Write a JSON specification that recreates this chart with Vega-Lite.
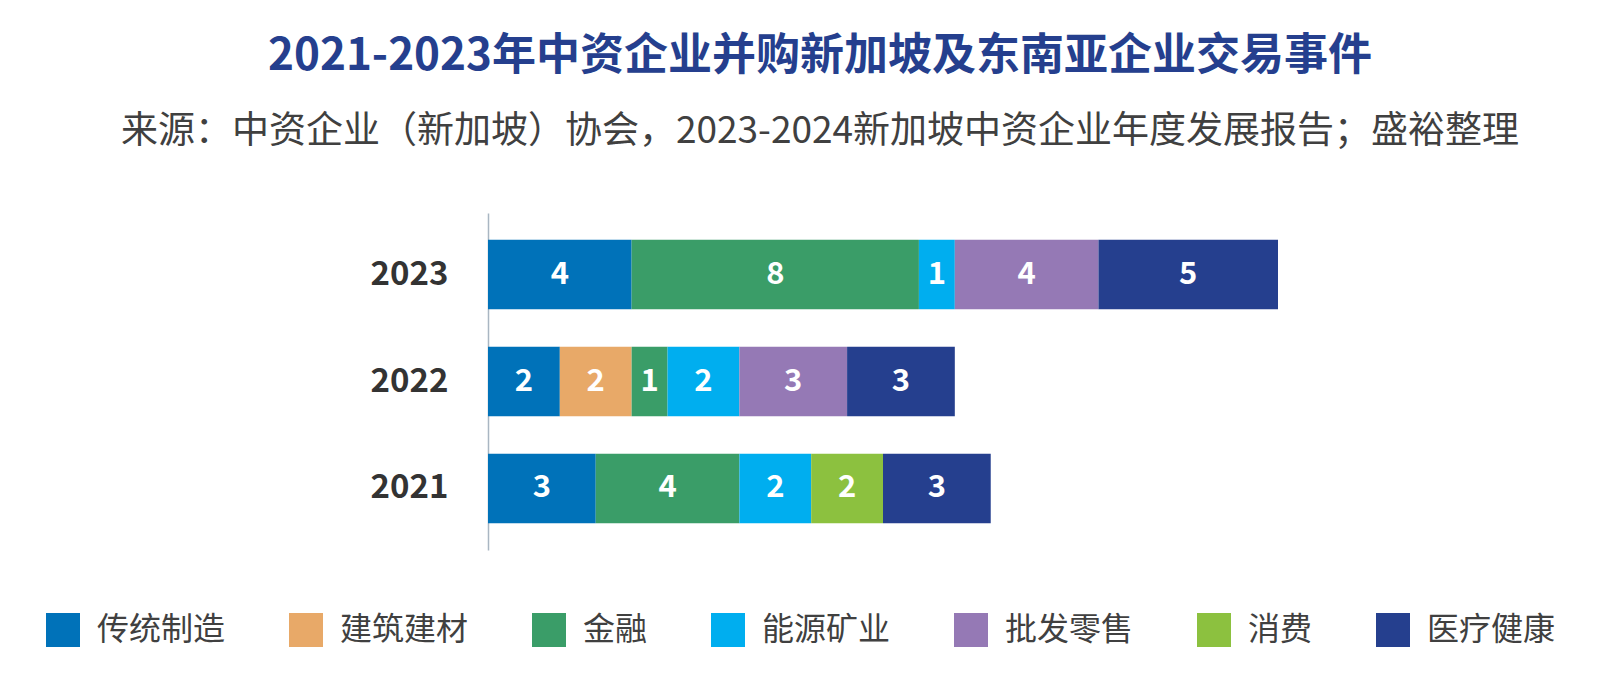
{
  "$schema": "https://vega.github.io/schema/vega-lite/v6.json",
  "autosize": {"type": "none"},
  "padding": {"left": 488, "top": 213, "right": 327, "bottom": 126},
  "width": 790,
  "height": 337,
  "background": "white",
  "config": {"view": {"stroke": null}, "font": "Noto Sans CJK SC"},
  "title": {
    "text": "2021-2023年中资企业并购新加坡及东南亚企业交易事件",
    "subtitle": "来源：中资企业（新加坡）协会，2023-2024新加坡中资企业年度发展报告；盛裕整理",
    "anchor": "middle",
    "frame": "group",
    "dx": -63,
    "offset": 63,
    "font": "Noto Sans CJK SC",
    "fontSize": 44,
    "fontWeight": "bold",
    "color": "#253F8E",
    "subtitleFont": "Noto Sans CJK SC",
    "subtitleFontSize": 37,
    "subtitleColor": "#404040",
    "subtitlePadding": 35
  },
  "data": {
    "values": [
      {"year": "2023", "sector": "传统制造", "k": 1, "n": 4},
      {"year": "2023", "sector": "金融", "k": 3, "n": 8},
      {"year": "2023", "sector": "能源矿业", "k": 4, "n": 1},
      {"year": "2023", "sector": "批发零售", "k": 5, "n": 4},
      {"year": "2023", "sector": "医疗健康", "k": 7, "n": 5},
      {"year": "2022", "sector": "传统制造", "k": 1, "n": 2},
      {"year": "2022", "sector": "建筑建材", "k": 2, "n": 2},
      {"year": "2022", "sector": "金融", "k": 3, "n": 1},
      {"year": "2022", "sector": "能源矿业", "k": 4, "n": 2},
      {"year": "2022", "sector": "批发零售", "k": 5, "n": 3},
      {"year": "2022", "sector": "医疗健康", "k": 7, "n": 3},
      {"year": "2021", "sector": "传统制造", "k": 1, "n": 3},
      {"year": "2021", "sector": "金融", "k": 3, "n": 4},
      {"year": "2021", "sector": "能源矿业", "k": 4, "n": 2},
      {"year": "2021", "sector": "消费", "k": 6, "n": 2},
      {"year": "2021", "sector": "医疗健康", "k": 7, "n": 3}
    ]
  },
  "encoding": {
    "y": {
      "field": "year",
      "type": "nominal",
      "sort": ["2023", "2022", "2021"],
      "scale": {"paddingInner": 0.35, "paddingOuter": 0.25},
      "axis": {
        "title": null,
        "ticks": false,
        "grid": false,
        "domain": true,
        "domainColor": "#a9b6c2",
        "domainWidth": 1.5,
        "labelFont": "Noto Sans CJK SC",
        "labelFontSize": 33,
        "labelFontWeight": "bold",
        "labelColor": "#333333",
        "labelPadding": 40
      }
    },
    "order": {"field": "k", "type": "quantitative", "sort": "ascending"}
  },
  "layer": [
    {
      "mark": {"type": "bar", "stroke": null},
      "encoding": {
        "x": {
          "field": "n",
          "type": "quantitative",
          "stack": "zero",
          "scale": {"domain": [0, 22], "nice": false, "zero": true},
          "axis": null
        },
        "color": {
          "field": "sector",
          "type": "nominal",
          "scale": {
            "domain": ["传统制造", "建筑建材", "金融", "能源矿业", "批发零售", "消费", "医疗健康"],
            "range": ["#0072B9", "#E8A968", "#3A9D68", "#00AEEF", "#9579B5", "#8CC13F", "#253F8E"]
          },
          "legend": {
            "title": null,
            "orient": "none",
            "direction": "horizontal",
            "columns": 7,
            "legendX": -442,
            "legendY": 400,
            "symbolType": "square",
            "symbolSize": 1156,
            "symbolStrokeWidth": 0,
            "symbolOpacity": 1,
            "labelFont": "Noto Sans CJK SC",
            "labelFontSize": 32,
            "labelColor": "#404040",
            "labelOffset": 17,
            "labelLimit": 300,
            "columnPadding": 63
          }
        }
      }
    },
    {
      "mark": {"type": "text", "color": "white", "fontWeight": "bold", "fontSize": 31, "font": "Noto Sans CJK SC", "baseline": "middle", "align": "center"},
      "encoding": {
        "x": {"field": "n", "type": "quantitative", "stack": "zero", "bandPosition": 0.5},
        "text": {"field": "n", "type": "quantitative"}
      }
    }
  ]
}
